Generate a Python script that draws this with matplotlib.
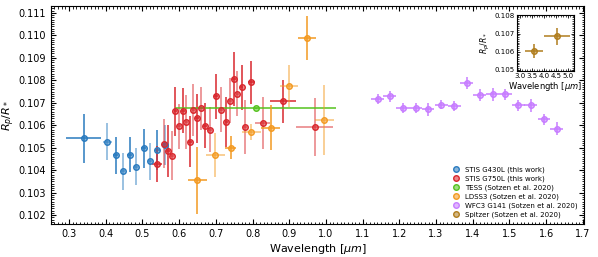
import numpy as np
import matplotlib
matplotlib.use('Agg')
import matplotlib.pyplot as plt
from matplotlib.ticker import MultipleLocator
from matplotlib.lines import Line2D

# STIS G430L (this work)
g430_wl = [0.340, 0.404, 0.427, 0.447, 0.465, 0.483, 0.503, 0.521, 0.541, 0.561]
g430_wlerr = [0.048, 0.012, 0.006, 0.006, 0.006, 0.006, 0.006, 0.006, 0.006, 0.006]
g430_rp = [0.10541, 0.10527, 0.10466, 0.10395, 0.10469, 0.10416, 0.10497, 0.10439, 0.10490, 0.10511]
g430_err = [0.0011, 0.00084, 0.00082, 0.00083, 0.00078, 0.00082, 0.00087, 0.00082, 0.0009, 0.0009]

# STIS G750L (this work)
g750_wl = [0.540, 0.558, 0.570, 0.580, 0.590, 0.600, 0.610, 0.620, 0.629, 0.639,
           0.649, 0.659, 0.671, 0.685, 0.700, 0.715, 0.729, 0.739, 0.749, 0.759,
           0.770, 0.780, 0.797, 0.828, 0.883, 0.969]
g750_wlerr = [0.013, 0.005, 0.005, 0.005, 0.005, 0.005, 0.005, 0.005, 0.005, 0.005,
              0.005, 0.005, 0.005, 0.005, 0.005, 0.005, 0.005, 0.005, 0.005, 0.005,
              0.005, 0.005, 0.01, 0.02, 0.035, 0.05]
g750_rp = [0.10426, 0.10518, 0.10485, 0.10465, 0.10662, 0.10595, 0.10665, 0.10616, 0.10527, 0.10667,
           0.10631, 0.10675, 0.10597, 0.10579, 0.10729, 0.10669, 0.10615, 0.10710, 0.10804, 0.10740,
           0.10768, 0.10591, 0.10791, 0.10610, 0.10707, 0.10591]
g750_err = [0.0008, 0.0011, 0.00115, 0.0011, 0.0011, 0.001, 0.001, 0.0012, 0.00115, 0.00115,
            0.0011, 0.00095, 0.001, 0.001, 0.001, 0.001, 0.0011, 0.001, 0.0012, 0.001,
            0.001, 0.0012, 0.00096, 0.00114, 0.00095, 0.0013]

# TESS
tess_wl = [0.8086]
tess_wlerr = [0.22]
tess_rp = [0.10675]
tess_err = [0.00003]

# LDSS3
ldss_wl = [0.650, 0.699, 0.740, 0.797, 0.849, 0.899, 0.949, 0.996]
ldss_wlerr = [0.025, 0.025, 0.015, 0.025, 0.025, 0.025, 0.025, 0.025]
ldss_rp = [0.10355, 0.10466, 0.10500, 0.10570, 0.10588, 0.10775, 0.10987, 0.10622]
ldss_err = [0.0015, 0.00098, 0.0005, 0.00036, 0.001, 0.00095, 0.00098, 0.00156]

# WFC3 G141
wfc3_wl = [1.141, 1.174, 1.209, 1.244, 1.278, 1.314, 1.350, 1.383, 1.419, 1.454,
           1.488, 1.524, 1.558, 1.594, 1.629]
wfc3_rp = [0.10717, 0.10729, 0.10676, 0.10675, 0.10670, 0.10692, 0.10685, 0.10788, 0.10735, 0.10738,
           0.10738, 0.10688, 0.10688, 0.10627, 0.10585]
wfc3_err = [0.00022, 0.00025, 0.00022, 0.00022, 0.00028, 0.00022, 0.00022, 0.00025, 0.00025, 0.00028,
            0.00025, 0.00025, 0.00028, 0.00025, 0.0003]
wfc3_wlerr = [0.0175] * len(wfc3_wl)

# Spitzer
spitzer_wl = [3.57, 4.54]
spitzer_wlerr = [0.38, 0.56]
spitzer_rp = [0.10605, 0.10685]
spitzer_err = [0.00039, 0.00048]

c_blue = '#2a7bbf'
c_red = '#d9272d'
c_green = '#55c21e'
c_orange = '#f39a22'
c_purple = '#c77dff'
c_brown = '#b07d1e'


def draw(ax, x, y, xe, ye, c, alt=True, ms=4):
    for i in range(len(x)):
        a = 0.6 if (alt and i % 2 == 1) else 1.0
        cont = ax.errorbar(x[i], y[i], xerr=xe[i], yerr=ye[i], fmt='o', color=c, ecolor=c,
                           elinewidth=1.1, ms=ms, mfc=(c, 0.55), mec=c, mew=1.0, capsize=0)
        for lc in cont[2]:
            lc.set_alpha(a)


fig = plt.figure(figsize=(5.98, 2.57), dpi=100)
ax = fig.add_axes([0.0853, 0.1284, 0.8913, 0.8483])

draw(ax, g430_wl, g430_rp, g430_wlerr, g430_err, c_blue)
draw(ax, g750_wl, g750_rp, g750_wlerr, g750_err, c_red)
draw(ax, tess_wl, tess_rp, tess_wlerr, tess_err, c_green, alt=False)
draw(ax, ldss_wl, ldss_rp, ldss_wlerr, ldss_err, c_orange)
draw(ax, wfc3_wl, wfc3_rp, wfc3_wlerr, wfc3_err, c_purple, alt=False)

ax.set_xlim(0.251, 1.703)
ax.set_ylim(0.10160, 0.11131)
ax.xaxis.set_major_locator(MultipleLocator(0.1))
ax.xaxis.set_minor_locator(MultipleLocator(0.01))
ax.yaxis.set_major_locator(MultipleLocator(0.001))
ax.yaxis.set_minor_locator(MultipleLocator(0.0001))
ax.tick_params(which='both', direction='in', top=True, right=True, labelsize=7)
ax.tick_params(which='major', length=3.5, width=0.8)
ax.tick_params(which='minor', length=1.8, width=0.6)
ax.set_xlabel(r'Wavelength [$\mu m$]', fontsize=8, labelpad=2)
ax.set_ylabel(r'$R_p/R_*$', fontsize=8, labelpad=1)

labels = ['STIS G430L (this work)', 'STIS G750L (this work)', 'TESS (Sotzen et al. 2020)',
          'LDSS3 (Sotzen et al. 2020)', 'WFC3 G141 (Sotzen et al. 2020)', 'Spitzer (Sotzen et al. 2020)']
cols = [c_blue, c_red, c_green, c_orange, c_purple, c_brown]
handles = [Line2D([], [], ls='none', marker='o', ms=4, color=c, mfc=(c, 0.55), mec=c) for c in cols]
ax.legend(handles, labels, loc='lower right', fontsize=5, frameon=False,
          handletextpad=0.3, labelspacing=0.35, borderaxespad=0.5)

ins = fig.add_axes([0.864, 0.725, 0.096, 0.218])
draw(ins, spitzer_wl, spitzer_rp, spitzer_wlerr, spitzer_err, c_brown, alt=False)
ins.set_xlim(2.86, 5.25)
ins.set_ylim(0.10496, 0.10804)
ins.xaxis.set_major_locator(MultipleLocator(0.5))
ins.xaxis.set_minor_locator(MultipleLocator(0.1))
ins.yaxis.set_major_locator(MultipleLocator(0.001))
ins.yaxis.set_minor_locator(MultipleLocator(0.0001))
ins.tick_params(which='both', direction='in', top=True, right=True, labelsize=5, pad=1.5)
ins.tick_params(which='major', length=2.5, width=0.6)
ins.tick_params(which='minor', length=1.2, width=0.5)
ins.set_xlabel(r'Wavelength [$\mu m$]', fontsize=6, labelpad=1)
ins.set_ylabel(r'$R_p/R_*$', fontsize=5.5, labelpad=2)

fig.savefig('out.png', dpi=100)
